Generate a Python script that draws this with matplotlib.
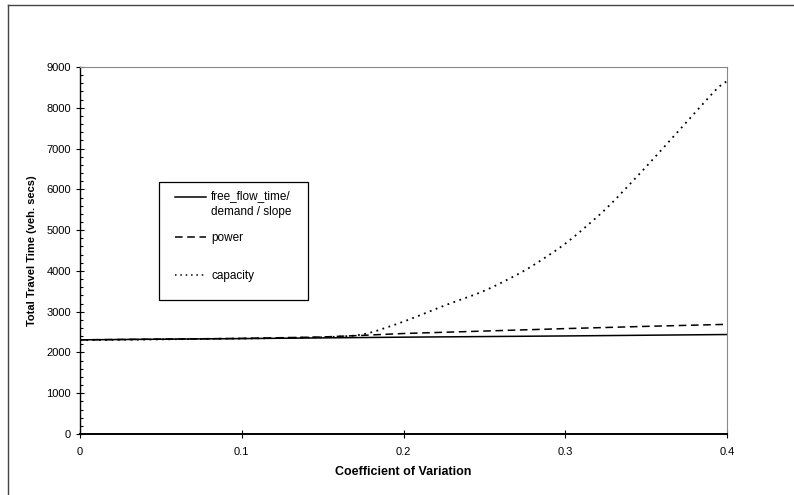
"""
Total travel time vs coefficient of variation for three link-cost variants
"""
import numpy as np
import matplotlib.pyplot as plt
from matplotlib.lines import Line2D
from matplotlib.patches import Rectangle
from matplotlib.ticker import MultipleLocator

plt.rcParams['font.family'] = ['Liberation Sans', 'DejaVu Sans']

# data
cv_flat = [0.0, 0.1, 0.2, 0.3, 0.4]
free_flow = [2310, 2340, 2375, 2405, 2440]

cv_power = [0.0, 0.1, 0.15, 0.175, 0.2, 0.25, 0.3, 0.35, 0.4]
power = [2310, 2345, 2380, 2420, 2465, 2525, 2585, 2640, 2690]

cv_cap = [0.0, 0.1, 0.15, 0.175, 0.2, 0.225, 0.25, 0.275, 0.3, 0.325, 0.35, 0.375, 0.4]
capacity = [2300, 2340, 2370, 2420, 2750, 3150, 3500, 4000, 4650, 5500, 6550, 7650, 8750]

x_ticks = [0, 0.1, 0.2, 0.3, 0.4]
x_labels = ['0', '0.1', '0.2', '0.3', '0.4']
y_ticks = np.arange(0, 9001, 1000)

W, H = 794, 495
fig = plt.figure(figsize=(W / 100, H / 100), dpi=100)
ax = fig.add_axes([0.1008, 0.1232, 0.8148, 0.7414])

# smooth the capacity curve a little so it looks like the drawn spline
cv_fine = np.linspace(0, 0.4, 200)
cap_fine = np.interp(cv_fine, cv_cap, capacity)
kern = np.ones(9) / 9
cap_smooth = np.convolve(np.pad(cap_fine, 4, mode='edge'), kern, mode='valid')

styles = ['-', (0, (5, 3)), (0, (1, 2.5))]
ax.plot(cv_flat, free_flow, color='black', lw=1.1, ls=styles[0])
ax.plot(cv_power, power, color='black', lw=1.1, ls=styles[1])
ax.plot(cv_fine, cap_smooth, color='black', lw=1.3, ls=styles[2])

ax.set_xlim(0, 0.4)
ax.set_ylim(0, 9000)
ax.set_xticks(x_ticks)
ax.set_xticklabels(x_labels)
ax.set_yticks(y_ticks)
ax.yaxis.set_minor_locator(MultipleLocator(200))
ax.tick_params(axis='both', which='major', direction='inout', length=6,
               width=0.8, labelsize=8, colors='black')
ax.tick_params(axis='y', which='minor', direction='in', length=2.5, width=0.8)
ax.tick_params(axis='x', pad=6)

ax.spines['left'].set_linewidth(1.0)
ax.spines['bottom'].set_linewidth(1.4)
for s in ['top', 'right']:
    ax.spines[s].set_color('#888888')
    ax.spines[s].set_linewidth(0.8)
    ax.spines[s].set_linestyle((0, (1, 1)))

ax.set_xlabel('Coefficient of Variation', fontsize=9, fontweight='bold', labelpad=7)
ax.set_ylabel('Total Travel Time (veh. secs)', fontsize=8, fontweight='bold', labelpad=7)

# legend box drawn by hand (figure pixel coords, y from top)
def fx(px):
    return px / W

def fy(py):
    return 1 - py / H

fig.add_artist(Rectangle((fx(159), fy(300)), fx(308) - fx(159), fy(182) - fy(300),
                         transform=fig.transFigure, fill=False, ec='black', lw=0.9))
labels = ['free_flow_time/\ndemand / slope', 'power', 'capacity']
line_y = [197, 237, 275]
text_y = [204, 238, 276]
for ls, lab, ly, ty in zip(styles, labels, line_y, text_y):
    fig.add_artist(Line2D([fx(175), fx(206)], [fy(ly), fy(ly)], color='black',
                          lw=1.1, ls=ls))
    fig.text(fx(211), fy(ty), lab, fontsize=8.5, va='center', ha='left',
             linespacing=1.35)

# outer frame of the original chart
fig.add_artist(Line2D([fx(8), fx(8)], [0, fy(5)], color='#444444', lw=1.0))
fig.add_artist(Line2D([fx(8), 1], [fy(5), fy(5)], color='#444444', lw=1.0))

fig.savefig('out.png', dpi=100)
